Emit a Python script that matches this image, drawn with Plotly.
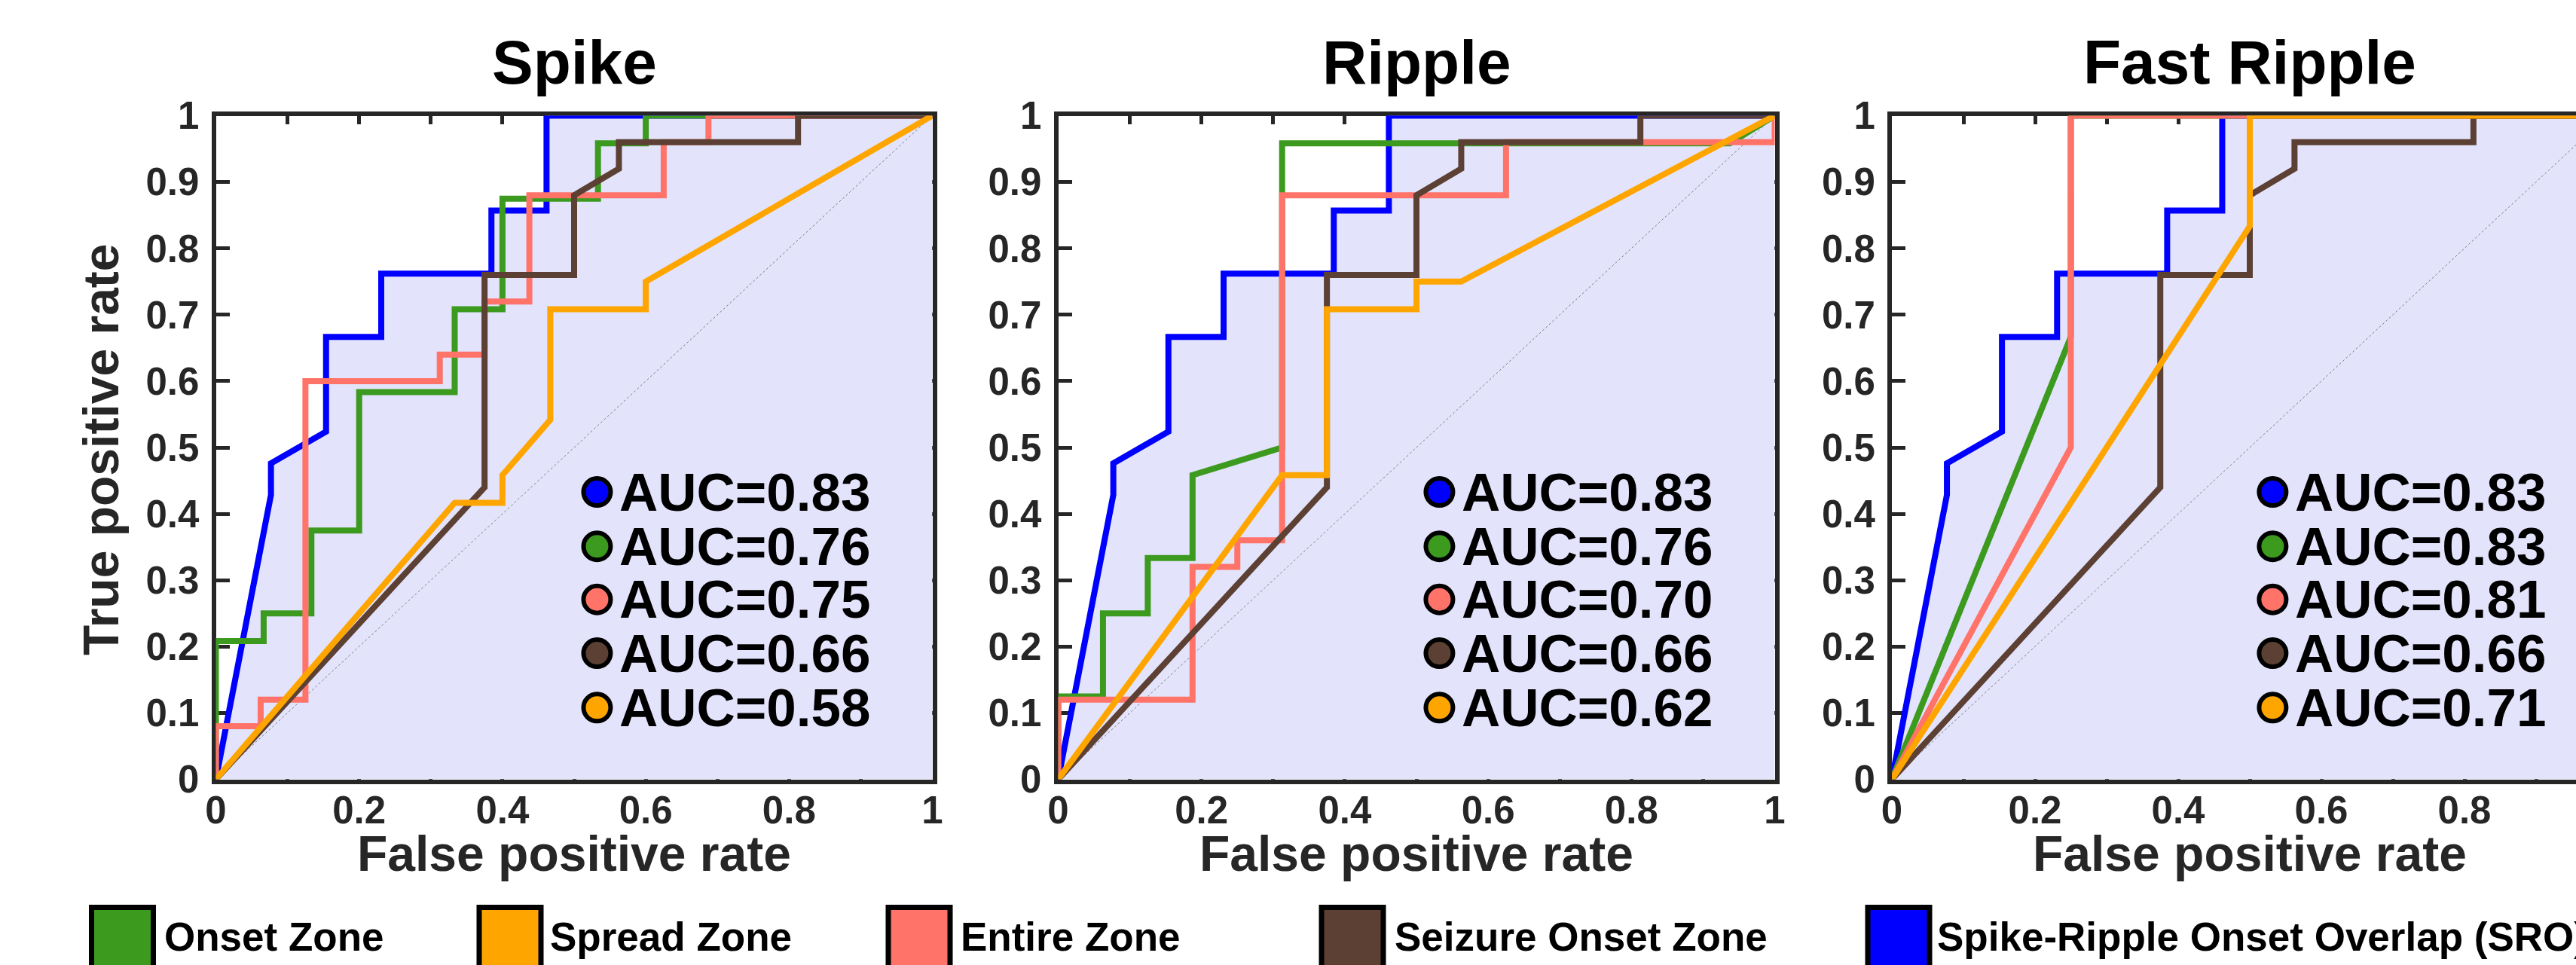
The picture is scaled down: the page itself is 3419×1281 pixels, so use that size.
import plotly.graph_objects as go

# ---------------- data ----------------
panel_titles = ["Spike", "Ripple", "Fast Ripple"]
zone_names = ["Onset Zone", "Spread Zone", "Entire Zone", "Seizure Onset Zone",
              "Spike-Ripple Onset Overlap (SRO)"]

chance_fpr = [0, 1]
chance_tpr = [0, 1]

# SRO (blue) and Seizure Onset Zone (brown) curves are the same in all panels
sro_fpr = [0, 0.0769, 0.0769, 0.1538, 0.1538, 0.2308, 0.2308, 0.3846, 0.3846, 0.4615, 0.4615, 1]
sro_tpr = [0, 0.4286, 0.4762, 0.5238, 0.6667, 0.6667, 0.7619, 0.7619, 0.8571, 0.8571, 1, 1]
soz_fpr = [0, 0.375, 0.375, 0.5, 0.5, 0.5625, 0.5625, 0.8125, 0.8125, 1]
soz_tpr = [0, 0.44, 0.76, 0.76, 0.88, 0.92, 0.96, 0.96, 1, 1]

spike_onset_fpr = [0, 0, 0.0667, 0.0667, 0.1333, 0.1333, 0.2, 0.2, 0.3333, 0.3333, 0.4, 0.4, 0.5333, 0.5333, 0.6, 0.6, 1]
spike_onset_tpr = [0, 0.2083, 0.2083, 0.25, 0.25, 0.375, 0.375, 0.5833, 0.5833, 0.7083, 0.7083, 0.875, 0.875, 0.9583, 0.9583, 1, 1]
spike_spread_fpr = [0, 0.3333, 0.4, 0.4, 0.4667, 0.4667, 0.6, 0.6, 1]
spike_spread_tpr = [0, 0.4167, 0.4167, 0.4583, 0.5417, 0.7083, 0.7083, 0.75, 1]
spike_entire_fpr = [0, 0, 0.0625, 0.0625, 0.125, 0.125, 0.3125, 0.3125, 0.375, 0.375, 0.4375, 0.4375, 0.625, 0.625, 0.6875, 0.6875, 1]
spike_entire_tpr = [0, 0.08, 0.08, 0.12, 0.12, 0.6, 0.6, 0.64, 0.64, 0.72, 0.72, 0.88, 0.88, 0.96, 0.96, 1, 1]

ripple_onset_fpr = [0, 0, 0.0625, 0.0625, 0.125, 0.125, 0.1875, 0.1875, 0.3125, 0.3125, 0.9375, 1]
ripple_onset_tpr = [0, 0.125, 0.125, 0.25, 0.25, 0.3333, 0.3333, 0.4583, 0.5, 0.9583, 0.9583, 1]
ripple_spread_fpr = [0, 0.3125, 0.375, 0.375, 0.5, 0.5, 0.5625, 1]
ripple_spread_tpr = [0, 0.4583, 0.4583, 0.7083, 0.7083, 0.75, 0.75, 1]
ripple_entire_fpr = [0, 0, 0.1875, 0.1875, 0.25, 0.25, 0.3125, 0.3125, 0.625, 0.625, 1, 1]
ripple_entire_tpr = [0, 0.12, 0.12, 0.32, 0.32, 0.36, 0.36, 0.88, 0.88, 0.96, 0.96, 1]

fr_onset_fpr = [0, 0.25, 0.25, 1]
fr_onset_tpr = [0, 0.6667, 1, 1]
fr_spread_fpr = [0, 0.5, 0.5, 1]
fr_spread_tpr = [0, 0.8333, 1, 1]
fr_entire_fpr = [0, 0.25, 0.25, 1]
fr_entire_tpr = [0, 0.5, 1, 1]

# AUC values in legend order: SRO, Onset, Entire, SOZ, Spread
auc_spike = [0.83, 0.76, 0.75, 0.66, 0.58]
auc_ripple = [0.83, 0.76, 0.70, 0.66, 0.62]
auc_fast_ripple = [0.83, 0.83, 0.81, 0.66, 0.71]

# ---------------- styling ----------------
W, H = 3419, 1281
FONT = "Liberation Sans, Arial, Helvetica, sans-serif"
AX = "#262626"
C_SRO = "#0000FF"
C_ONSET = "#3C9A1F"
C_ENTIRE = "#FF7369"
C_SOZ = "#5C4033"
C_SPREAD = "#FFA500"
FILL = "#E3E3FB"
LW = 8

panels = [
    dict(onset=(spike_onset_fpr, spike_onset_tpr), spread=(spike_spread_fpr, spike_spread_tpr),
         entire=(spike_entire_fpr, spike_entire_tpr), auc=auc_spike),
    dict(onset=(ripple_onset_fpr, ripple_onset_tpr), spread=(ripple_spread_fpr, ripple_spread_tpr),
         entire=(ripple_entire_fpr, ripple_entire_tpr), auc=auc_ripple),
    dict(onset=(fr_onset_fpr, fr_onset_tpr), spread=(fr_spread_fpr, fr_spread_tpr),
         entire=(fr_entire_fpr, fr_entire_tpr), auc=auc_fast_ripple),
]

# pixel layout
x_dom_px = [(286.5, 1237.5), (1404.5, 2355.5), (2511, 3461)]
y_top_px, y_bot_px = 153.5, 1034.5
PH = y_bot_px - y_top_px


def ydom(py):
    """pixel row -> fraction of the (shared) y domain"""
    return (y_bot_px - py) / PH


def xdom1(px):
    """pixel column -> fraction of the first panel's x domain"""
    return (px - x_dom_px[0][0]) / (x_dom_px[0][1] - x_dom_px[0][0])


fig = go.Figure()
layout_axes = {}
annotations = []
shapes = []

legend_rows_y = [0.433, 0.351, 0.271, 0.190, 0.108]
legend_circle_x = 0.532
legend_text_x = 0.561

for i, p in enumerate(panels):
    n = i + 1
    xa = "x" if n == 1 else f"x{n}"
    ya = "y" if n == 1 else f"y{n}"
    l, r = x_dom_px[i]
    width_px = r - l
    if r > W:
        dom = [l / W, 1.0]
        xr = [0, (W - l) / width_px]
    else:
        dom = [l / W, r / W]
        xr = [0, 1]

    layout_axes["xaxis" if n == 1 else f"xaxis{n}"] = dict(
        domain=dom, range=xr, anchor=ya, showgrid=False, zeroline=False, automargin=False,
        showline=True, linewidth=6, linecolor=AX, mirror="ticks",
        ticks="inside", ticklen=11, tickwidth=5, tickcolor=AX,
        tick0=0, dtick=0.2, ticklabelstandoff=-9,
        tickfont=dict(family=FONT, size=51, color=AX, weight="bold"),
        minor=dict(dtick=0.1, ticks="inside", ticklen=11, tickwidth=5, tickcolor=AX),
        layer="below traces", fixedrange=True)
    layout_axes["yaxis" if n == 1 else f"yaxis{n}"] = dict(
        domain=[1 - y_bot_px / H, 1 - y_top_px / H], range=[0, 1], anchor=xa,
        showgrid=False, zeroline=False, automargin=False,
        showline=True, linewidth=6, linecolor=AX,
        mirror="ticks" if r <= W else False,
        ticks="inside", ticklen=18, tickwidth=5, tickcolor=AX,
        tick0=0, dtick=0.1, ticklabelstandoff=6,
        tickfont=dict(family=FONT, size=51, color=AX, weight="bold"),
        layer="below traces", fixedrange=True)

    # shaded area under SRO curve
    fig.add_trace(go.Scatter(x=sro_fpr, y=sro_tpr, mode="none", fill="tozeroy",
                             fillcolor=FILL, xaxis=xa, yaxis=ya, hoverinfo="skip"))
    # chance diagonal
    fig.add_trace(go.Scatter(x=chance_fpr, y=chance_tpr, mode="lines",
                             line=dict(color="#7F7F7F", width=1, dash="dot"),
                             xaxis=xa, yaxis=ya, hoverinfo="skip"))
    curves = [
        (sro_fpr, sro_tpr, C_SRO),
        (p["onset"][0], p["onset"][1], C_ONSET),
        (p["entire"][0], p["entire"][1], C_ENTIRE),
        (soz_fpr, soz_tpr, C_SOZ),
        (p["spread"][0], p["spread"][1], C_SPREAD),
    ]
    for fx, ty, col in curves:
        fig.add_trace(go.Scatter(x=fx, y=ty, mode="lines", cliponaxis=False,
                                 line=dict(color=col, width=LW),
                                 xaxis=xa, yaxis=ya))

    # in-panel AUC legend
    for k, (auc, col) in enumerate(zip(p["auc"], [C_SRO, C_ONSET, C_ENTIRE, C_SOZ, C_SPREAD])):
        shapes.append(dict(type="circle", xref=xa, yref=ya,
                           xsizemode="pixel", ysizemode="pixel",
                           xanchor=legend_circle_x, yanchor=legend_rows_y[k],
                           x0=-18, x1=18, y0=-18, y1=18,
                           fillcolor=col, line=dict(color="black", width=6), layer="above"))
        annotations.append(dict(xref=xa, yref=ya, x=legend_text_x, y=legend_rows_y[k],
                                xanchor="left", yanchor="middle", showarrow=False,
                                text=f"AUC={auc:.2f}",
                                font=dict(family=FONT, size=71, color="black", weight="bold")))

    # panel title
    annotations.append(dict(xref=xa, yref=f"{ya} domain", x=0.5, y=ydom(82),
                            xanchor="center", yanchor="middle", showarrow=False,
                            text=panel_titles[i],
                            font=dict(family=FONT, size=82, color="black", weight="bold")))
    # x axis title
    annotations.append(dict(xref=xa, yref=f"{ya} domain", x=0.5, y=ydom(1133),
                            xanchor="center", yanchor="middle", showarrow=False,
                            text="False positive rate",
                            font=dict(family=FONT, size=66, color=AX, weight="bold")))

# y axis title (first panel only)
annotations.append(dict(xref="x domain", yref="y domain", x=xdom1(134), y=ydom(596),
                        xanchor="center", yanchor="middle", showarrow=False, textangle=-90,
                        text="True positive rate",
                        font=dict(family=FONT, size=66, color=AX, weight="bold")))

# bottom legend (positioned relative to the first panel so nothing pushes margins)
leg_colors = [C_ONSET, C_SPREAD, C_ENTIRE, C_SOZ, C_SRO]
leg_square_px = [121.5, 636, 1179, 1754, 2479]
leg_text_px = [216, 728, 1273, 1849, 2569]
for name, col, sx, tx in zip(zone_names, leg_colors, leg_square_px, leg_text_px):
    shapes.append(dict(type="rect", xref="x domain", yref="y domain",
                       x0=xdom1(sx), x1=xdom1(sx + 82), y0=ydom(1330), y1=ydom(1204.5),
                       fillcolor=col, line=dict(color="black", width=7), layer="above"))
    annotations.append(dict(xref="x domain", yref="y domain", x=xdom1(tx), y=ydom(1243),
                            xanchor="left", yanchor="middle", showarrow=False, text=name,
                            font=dict(family=FONT, size=53, color="black", weight="bold")))

fig.update_layout(
    width=W, height=H, margin=dict(l=0, r=0, t=0, b=0, pad=0, autoexpand=False),
    paper_bgcolor="white", plot_bgcolor="white", showlegend=False,
    annotations=annotations, shapes=shapes, **layout_axes)

fig.write_html("out.html", config={"displayModeBar": False},
               post_script="document.body.style.margin='0';document.body.style.overflow='hidden';")
